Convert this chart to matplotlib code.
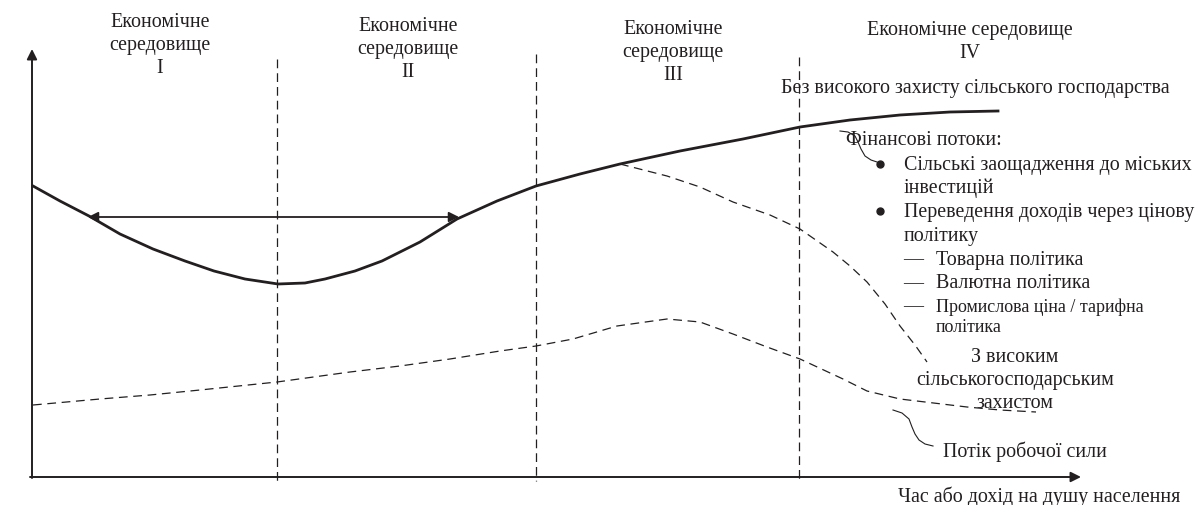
import matplotlib
matplotlib.use("Agg")
import matplotlib.pyplot as plt
from matplotlib.patches import FancyArrowPatch

plt.rcParams['font.family'] = ['Liberation Serif', 'DejaVu Serif']

# ---- data (schematic units) ----
main_x = [33, 60, 89, 120, 153, 185, 214, 245, 278, 305, 325, 355, 382, 420, 457,
          497, 536, 580, 620, 680, 743, 800, 850, 900, 950, 998]
main_y = [187, 202, 217, 235, 250, 262, 272, 280, 285, 284, 280, 272, 262, 243, 220,
          202, 187, 175, 165, 152, 140, 128, 121, 116, 113, 112]

branch_x = [620, 667, 700, 733, 770, 800, 833, 850, 867, 885, 900, 915, 927]
branch_y = [165, 177, 188, 203, 216, 230, 253, 267, 283, 305, 327, 346, 363]

labor_x = [33, 100, 150, 200, 277, 350, 400, 450, 500, 536, 573, 617, 667, 700, 733,
           767, 800, 843, 867, 900, 967, 1000, 1036]
labor_y = [406, 400, 396, 391, 383, 373, 367, 360, 352, 347, 340, 327, 320, 323, 335,
           348, 360, 380, 392, 400, 408, 411, 413]

boundaries_x = [277, 536, 799]
boundaries_top = [60, 55, 58]

env_labels = [["Економічне", "середовище", "I"],
              ["Економічне", "середовище", "II"],
              ["Економічне", "середовище", "III"],
              ["Економічне середовище", "IV"]]
env_x = [160, 408, 673, 970]
env_top = [22, 26, 29, 30]

fin_items = ["Сільські заощадження до міських", "інвестицій",
             "Переведення доходів через цінову", "політику"]
fin_y = [165, 188, 212, 236]
policy_items = ["Товарна політика", "Валютна політика"]
policy_y = [260, 284]

# ---- figure ----
fig = plt.figure(figsize=(11.99, 5.06), dpi=100)
ax = fig.add_axes([0, 0, 1, 1])
ax.set_xlim(0, 1199)
ax.set_ylim(506, 0)
ax.axis('off')

k = '#231f20'
# axes arrows
ax.add_patch(FancyArrowPatch((32, 479), (32, 50), arrowstyle='-|>', mutation_scale=15,
                             color=k, lw=1.4, shrinkA=0, shrinkB=0))
ax.add_patch(FancyArrowPatch((30, 478), (1081, 478), arrowstyle='-|>', mutation_scale=15,
                             color=k, lw=1.4, shrinkA=0, shrinkB=0))

# boundaries
for bx, bt in zip(boundaries_x, boundaries_top):
    ax.plot([bx, bx], [bt, 482], color=k, lw=0.9, dashes=(7, 4))

# curves
ax.plot(main_x, main_y, color=k, lw=2.0, solid_joinstyle='round')
ax.plot(branch_x, branch_y, color=k, lw=0.9, dashes=(7, 4.5))
ax.plot(labor_x, labor_y, color=k, lw=0.9, dashes=(7, 4.5))

# double arrow
ax.add_patch(FancyArrowPatch((88, 218), (459, 218), arrowstyle='<|-|>', mutation_scale=15,
                             color=k, lw=1.3, shrinkA=0, shrinkB=0))

fs = 14.4
for lines, x, top in zip(env_labels, env_x, env_top):
    for i, t in enumerate(lines):
        ax.text(x, top + i * 23, t, ha='center', va='center', fontsize=fs, color=k)

ax.text(975, 88, "Без високого захисту сільського господарства", ha='center', va='center',
        fontsize=fs, color=k)
ax.text(846, 140, "Фінансові потоки:", ha='left', va='center', fontsize=fs, color=k)
for i, (t, y) in enumerate(zip(fin_items, fin_y)):
    if i % 2 == 0:
        ax.plot([880], [y], marker='o', ms=5, color=k, linestyle='none')
    ax.text(904, y, t, ha='left', va='center', fontsize=fs, color=k)
for t, y in zip(policy_items, policy_y):
    ax.text(903, y, "—", ha='left', va='center', fontsize=fs, color=k)
    ax.text(936, y, t, ha='left', va='center', fontsize=fs, color=k)
ax.text(903, 307, "—", ha='left', va='center', fontsize=fs, color=k)
ax.text(936, 307, "Промислова ціна / тарифна", ha='left', va='center', fontsize=13, color=k)
ax.text(936, 328, "політика", ha='left', va='center', fontsize=13, color=k)

for t, y in zip(["З високим", "сільськогосподарським", "захистом"], [357, 381, 404]):
    ax.text(1015, y, t, ha='center', va='center', fontsize=fs, color=k)

ax.text(943, 452, "Потік робочої сили", ha='left', va='center', fontsize=fs, color=k)
ax.text(1180, 497, "Час або дохід на душу населення", ha='right', va='center', fontsize=fs, color=k)

# connectors
ax.plot([840, 848, 855, 858, 861, 865, 871, 877], [132, 133, 137, 143, 150, 157, 161, 163],
        color=k, lw=0.8)
ax.plot([893, 902, 909, 912, 915, 919, 925, 933], [411, 414, 420, 428, 435, 441, 445, 447],
        color=k, lw=0.8)

fig.savefig("out.png", dpi=100)
